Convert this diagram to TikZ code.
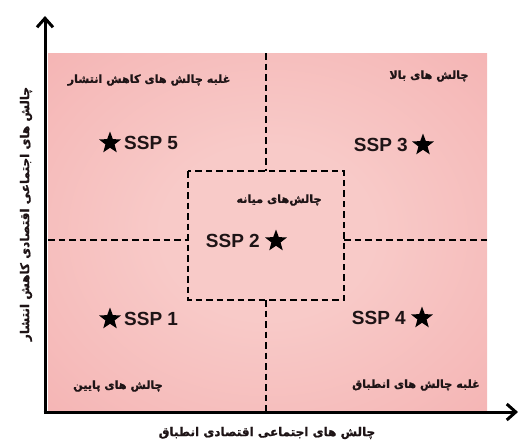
\documentclass[tikz,border=0pt]{standalone}
\usepackage{fontspec}
\setmainfont{Liberation Sans}
\newfontfamily\arabicfont[Script=Arabic,BoldFeatures={FakeBold=1.2}]{DejaVu Sans}
\TeXXeTstate=1
\usetikzlibrary{shapes.geometric,arrows.meta}
\definecolor{pinkout}{RGB}{242,164,165}
\definecolor{pinkin}{RGB}{248,202,200}
\definecolor{inkdark}{RGB}{30,20,22}
\pgfdeclareradialshading{pinkglow}{\pgfpoint{0bp}{0bp}}{color(0bp)=(pinkin); color(12bp)=(pinkin); color(55bp)=(pinkout)}
\tikzset{
  axisline/.style={line width=3pt,-{Straight Barb[length=9pt,width=16pt,line width=3pt]}},
  divline/.style={line width=1.4pt,dash pattern=on 6.5pt off 4pt},
  fa/.style={font=\arabicfont\bfseries\fontsize{11.2}{13}\selectfont,inner sep=0pt,text=inkdark},
  faaxis/.style={font=\arabicfont\bfseries\fontsize{12}{14}\selectfont,inner sep=0pt,text=inkdark},
  ssp/.style={font=\bfseries\fontsize{19}{21}\selectfont,inner sep=0pt,text=inkdark},
  starmark/.style={star,star points=5,star point ratio=2.4,fill=black,inner sep=0pt,minimum size=23pt},
}
\begin{document}
\begin{tikzpicture}[x=1pt,y=-1pt]
\useasboundingbox (0,0) rectangle (518,445);
% background
\shade[shading=pinkglow] (48,53) rectangle (487,412);
% coordinates
\coordinate (o) at (45,412);
\coordinate (ytip) at (45,16);
\coordinate (xtip) at (518,412);
\coordinate (vt) at (266,53);
\coordinate (vb) at (266,412);
\coordinate (hl) at (48,240);
\coordinate (hr) at (487,240);
\coordinate (b1) at (188,171);
\coordinate (b2) at (344,300);
% dashed dividers
\draw[divline] (vt) -- (266,171);
\draw[divline] (266,300) -- (vb);
\draw[divline] (hl) -- (188,240);
\draw[divline] (344,240) -- (hr);
\draw[divline] (b1) rectangle (b2);
% axes
\draw[axisline] (o) -- (ytip);
\draw[axisline] ([xshift=-1.5pt]o) -- (xtip);
% quadrant labels
\node[fa] (t5) at (149,80) {\beginR غلبه چالش های کاهش انتشار\endR};
\node[fa] (t3) at (429,76) {\beginR چالش های بالا\endR};
\node[fa] (t2) at (279,200) {\beginR چالش‌های میانه\endR};
\node[fa] (t1) at (118,386) {\beginR چالش های پایین\endR};
\node[fa] (t4) at (416,385) {\beginR غلبه چالش های انطباق\endR};
% axis labels
\node[faaxis] (xl) at (267,433) {\beginR چالش های اجتماعی اقتصادی انطباق\endR};
\node[faaxis,rotate=90] (yl) at (26,214) {\beginR چالش های اجتماعی اقتصادی کاهش انتشار\endR};
% stars and SSP labels
\node[starmark] (s5) at (110,143) {};
\node[ssp,anchor=west] (l5) at (124,143) {SSP 5};
\node[starmark] (s3) at (423,145) {};
\node[ssp,anchor=east] (l3) at (408,145) {SSP 3};
\node[starmark] (s2) at (276,241) {};
\node[ssp,anchor=east] (l2) at (260,241) {SSP 2};
\node[starmark] (s1) at (110,319) {};
\node[ssp,anchor=west] (l1) at (124,319) {SSP 1};
\node[starmark] (s4) at (422,318) {};
\node[ssp,anchor=east] (l4) at (406,318) {SSP 4};
\end{tikzpicture}
\end{document}
